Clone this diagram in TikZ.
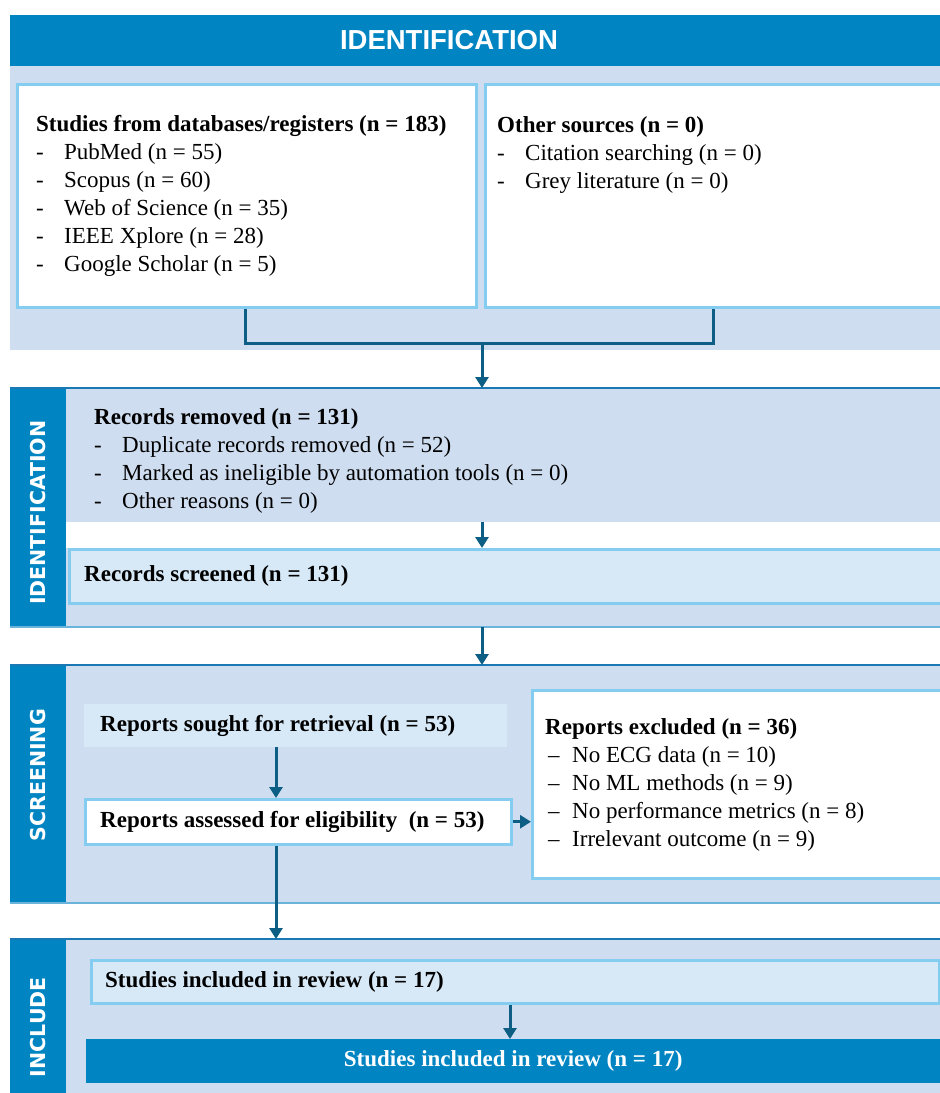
\documentclass[tikz,border=0pt]{standalone}
\usepackage{fontspec}
\setmainfont{Liberation Serif}
\setsansfont{Liberation Sans}
\newfontfamily\tagfont{DejaVu Sans}
\usetikzlibrary{positioning}
\usetikzlibrary{arrows.meta}
\definecolor{prisblue}{RGB}{0,133,194}
\definecolor{prispanel}{RGB}{207,221,240}
\definecolor{prislight}{RGB}{215,233,247}
\definecolor{prisedge}{RGB}{132,205,241}
\definecolor{prisarrow}{RGB}{12,94,132}
\definecolor{prisline}{RGB}{26,120,180}
\definecolor{prisbase}{RGB}{106,180,220}
\newcommand{\dashitem}{\makebox[28pt][l]{-}}
\newcommand{\ndashitem}{\hspace{3pt}\makebox[24pt][l]{--}}

\begin{document}
\begin{tikzpicture}[x=1pt,y=-1pt,font=\fontsize{23}{28}\selectfont]
        \tikzset{panel/.style={fill=prispanel,anchor=north west,inner sep=0pt},
                 strip/.style={fill=prisblue,anchor=north west,inner sep=0pt,minimum width=56pt},
                 whitebox/.style={draw=prisedge,line width=3pt,fill=white,anchor=north west},
                 lightbox/.style={draw=prisedge,line width=2.5pt,fill=prislight,anchor=north west},
                 txt/.style={align=left,inner sep=0pt},
                 tag/.style={text=white,rotate=90,font=\tagfont\bfseries\fontsize{20.5}{20.5}\selectfont},
                 conn/.style={draw=prisarrow,line width=3pt},
                 arr/.style={conn,-{Triangle[width=13pt,length=11pt]}}}
        \path[use as bounding box] (0,0) rectangle (940,1093);
        \clip (0,0) rectangle (940,1093);
        % identification (sources)
        \node[strip,minimum width=930pt,minimum height=51pt](hdr) at (10,15) {};
        \node[text=white,font=\sffamily\bfseries\fontsize{27.5}{27.5}\selectfont](hdrtxt) at (449,40) {IDENTIFICATION};
        \node[panel,minimum width=930pt,minimum height=284pt](sec1) at (10,66) {};
        \node[whitebox,minimum width=459pt,minimum height=223pt](db) at (16,83) {};
        \node[txt,right=20pt of db.west](dbtxt)
            {\textbf{Studies from databases/registers (n = 183)}\\
             \dashitem PubMed (n = 55)\\
             \dashitem Scopus (n = 60)\\
             \dashitem Web of Science (n = 35)\\
             \dashitem IEEE Xplore (n = 28)\\
             \dashitem Google Scholar (n = 5)};
        \node[whitebox,minimum width=470pt,minimum height=223pt](other) at (484,83) {};
        \node[txt,below right=33pt and 13pt of other.north west](othtxt)
            {\textbf{Other sources (n = 0)}\\
             \dashitem Citation searching (n = 0)\\
             \dashitem Grey literature (n = 0)};
        \coordinate (legL) at (245,0);
        \coordinate (legR) at (713,0);
        \coordinate (join) at (482,343);
        \draw[conn] (db.south -| legL) |- (join) -| (other.south -| legR);
        % identification (records)
        \node[strip,minimum height=239pt](strip2) at (10,388) {};
        \node[panel,minimum width=874pt,minimum height=239pt](sec2) at (66,388) {};
        \node[fill=white,anchor=north west,inner sep=0pt,minimum width=874pt,minimum height=26pt](gap) at (66,522) {};
        \node[txt,below right=20.5pt and 28pt of sec2.north west](rem)
            {\textbf{Records removed (n = 131)}\\
             \dashitem Duplicate records removed (n = 52)\\
             \dashitem Marked as ineligible by automation tools (n = 0)\\
             \dashitem Other reasons (n = 0)};
        \node[lightbox,minimum width=882pt,minimum height=54pt](scr) at (68,548) {};
        \node[txt,right=16pt of scr.west](scrtxt) {\textbf{Records screened (n = 131)}};
        \node[tag](tag2) at ([yshift=-5pt]strip2.center) {IDENTIFICATION};
        \draw[line width=2pt,draw=prisline] (strip2.north west) -- (sec2.north east);
        \draw[line width=2pt,draw=prisbase] (strip2.south west) -- (sec2.south east);
        \draw[arr] (join) -- (sec2.north -| join);
        \draw[arr] (gap.north -| join) -- (scr.north -| join);
        % screening
        \node[strip,minimum height=238pt](strip3) at (10,665) {};
        \node[panel,minimum width=874pt,minimum height=238pt](sec3) at (66,665) {};
        \node[fill=prislight,anchor=north west,minimum width=423pt,minimum height=43pt](sought) at (84,704) {};
        \node[txt,right=16pt of sought.west](soughttxt) {\textbf{Reports sought for retrieval (n = 53)}};
        \node[whitebox,line width=2.5pt,minimum width=426pt,minimum height=45pt](assess) at (84,798) {};
        \node[txt,right=16pt of assess.west](assesstxt) {\textbf{Reports assessed for eligibility~ (n = 53)}};
        \node[whitebox,minimum width=419pt,minimum height=188pt](excl) at (531,689) {};
        \node[txt,right=14pt of excl.west](excltxt)
            {\textbf{Reports excluded (n = 36)}\\
             \ndashitem No ECG data (n = 10)\\
             \ndashitem No ML methods (n = 9)\\
             \ndashitem No performance metrics (n = 8)\\
             \ndashitem Irrelevant outcome (n = 9)};
        \node[tag](tag3) at ([yshift=9pt]strip3.center) {SCREENING};
        \draw[line width=2pt,draw=prisline] (strip3.north west) -- (sec3.north east);
        \draw[line width=2pt,draw=prisbase] (strip3.south west) -- (sec3.south east);
        \draw[arr] (sec2.south -| join) -- (sec3.north -| join);
        \coordinate (col) at (276,0);
        \draw[arr] (sought.south -| col) -- (assess.north -| col);
        \draw[arr] (assess.east) -- (excl.west |- assess.east);
        % include
        \node[strip,minimum height=160pt](strip4) at (10,939) {};
        \node[panel,minimum width=874pt,minimum height=160pt](sec4) at (66,939) {};
        \node[lightbox,minimum width=848pt,minimum height=43pt](incl) at (90,959) {};
        \node[txt,right=15pt of incl.west](incltxt) {\textbf{Studies included in review (n = 17)}};
        \node[fill=prisblue,text=white,anchor=north west,minimum width=854pt,minimum height=44pt](final) at (86,1039)
            {\textbf{Studies included in review (n = 17)}};
        \node[tag](tag4) at ([yshift=-8pt]strip4.center) {INCLUDE};
        \draw[line width=2pt,draw=prisline] (strip4.north west) -- (sec4.north east);
        \draw[arr] (assess.south -| col) -- (sec4.north -| col);
        \coordinate (mid) at (510,0);
        \draw[arr] (incl.south -| mid) -- (final.north -| mid);
\end{tikzpicture}
\end{document}
